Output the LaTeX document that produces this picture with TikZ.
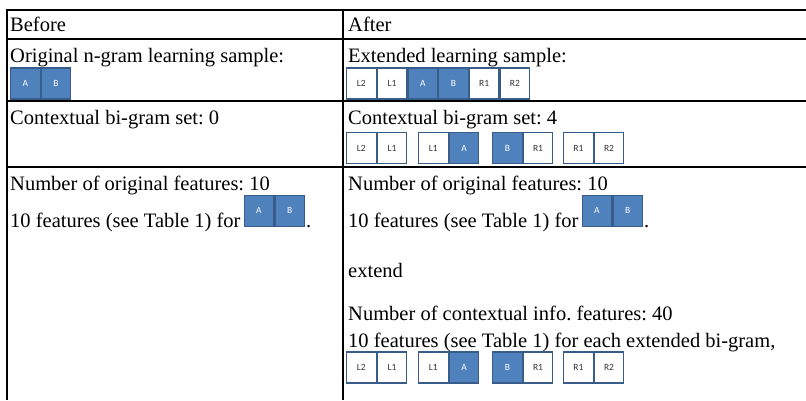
\documentclass[tikz,border=0pt]{standalone}
\usepackage{fontspec}
\setmainfont{Liberation Serif}
\newfontfamily\cellfont{Carlito}
\usetikzlibrary{positioning}
\frenchspacing

\definecolor{cellblue}{HTML}{4F81BD}
\definecolor{celledge}{HTML}{385D8A}

\tikzset{
  txt/.style={anchor=base west, inner sep=0pt, font=\fontsize{20.5}{24}\selectfont},
  cell/.style={draw=celledge, line width=1.2pt, minimum width=29.5pt, minimum height=31pt,
    inner sep=0pt, anchor=west, font=\cellfont\fontsize{9.5}{11}\selectfont},
  cellw/.style={cell, fill=white, text=black!80},
  cellb/.style={cell, fill=cellblue, text=white},
  rule/.style={line width=2pt}
}

\begin{document}
\begin{tikzpicture}[x=1pt, y=-1pt]

    \useasboundingbox (0,0) rectangle (806,400);

    % 1. Khung bảng
    \foreach \y in {10, 39, 101, 167}
        \draw[rule] (6,\y) -- (806,\y);
    \draw[rule] (7,9) -- (7,400);
    \draw[rule] (343,9) -- (343,400);

    % 2. Dòng tiêu đề
    \node[txt] (before) at (10,31) {Before};
    \node[txt] (after) at (348,31) {After};

    % 3. Mẫu học
    \node[txt] (orig) at (10,62) {Original n-gram learning sample:};
    \node[cellb] (oa) at (10,83.5) {A};
    \node[cellb, right=0pt of oa] (ob) {B};

    \node[txt] (ext) at (348,62) {Extended learning sample:};
    \node[cellw] (el2) at (346,83.5) {L2};
    \node[cellw, right=0pt of el2] (el1) {L1};
    \node[cellb, right=0pt of el1] (ea) {A};
    \node[cellb, right=0pt of ea] (eb) {B};
    \node[cellw, right=0pt of eb] (er1) {R1};
    \node[cellw, right=0pt of er1] (er2) {R2};

    % 4. Tập bi-gram ngữ cảnh
    \node[txt] (setl) at (10,124) {Contextual bi-gram set: 0};
    \node[txt] (setr) at (348,124) {Contextual bi-gram set: 4};

    \node[cellw] (pa1) at (346,148) {L2};
    \node[cellw, right=0pt of pa1] (pa2) {L1};
    \node[cellw] (pb1) at (418,148) {L1};
    \node[cellb, right=0pt of pb1] (pb2) {A};
    \node[cellb] (pc1) at (492,148) {B};
    \node[cellw, right=0pt of pc1] (pc2) {R1};
    \node[cellw] (pd1) at (563,148) {R1};
    \node[cellw, right=0pt of pd1] (pd2) {R2};

    % 5. Số đặc trưng (cột trái)
    \node[txt] (numl) at (10,190) {Number of original features: 10};
    \node[txt] (featl) at (10,227) {10 features (see Table 1) for};
    \node[cellb, anchor=south west] (fla) at ([xshift=3pt]featl.base east) {A};
    \node[cellb, right=0pt of fla] (flb) {B};
    \node[txt] (dotl) at ([xshift=1pt]flb.south east) {.};

    % 6. Số đặc trưng (cột phải)
    \node[txt] (numr) at (348,190) {Number of original features: 10};
    \node[txt] (featr) at (348,227) {10 features (see Table 1) for};
    \node[cellb, anchor=south west] (fra) at ([xshift=3pt]featr.base east) {A};
    \node[cellb, right=0pt of fra] (frb) {B};
    \node[txt] (dotr) at ([xshift=1pt]frb.south east) {.};

    \node[txt] (extend) at (348,277) {extend};

    \node[txt] (numc) at (348,320) {Number of contextual info. features: 40};
    \node[txt] (featc) at (348,347) {10 features (see Table 1) for each extended bi-gram,};

    \node[cellw] (qa1) at (346,367.5) {L2};
    \node[cellw, right=0pt of qa1] (qa2) {L1};
    \node[cellw] (qb1) at (418,367.5) {L1};
    \node[cellb, right=0pt of qb1] (qb2) {A};
    \node[cellb] (qc1) at (492,367.5) {B};
    \node[cellw, right=0pt of qc1] (qc2) {R1};
    \node[cellw] (qd1) at (563,367.5) {R1};
    \node[cellw, right=0pt of qd1] (qd2) {R2};

\end{tikzpicture}
\end{document}
